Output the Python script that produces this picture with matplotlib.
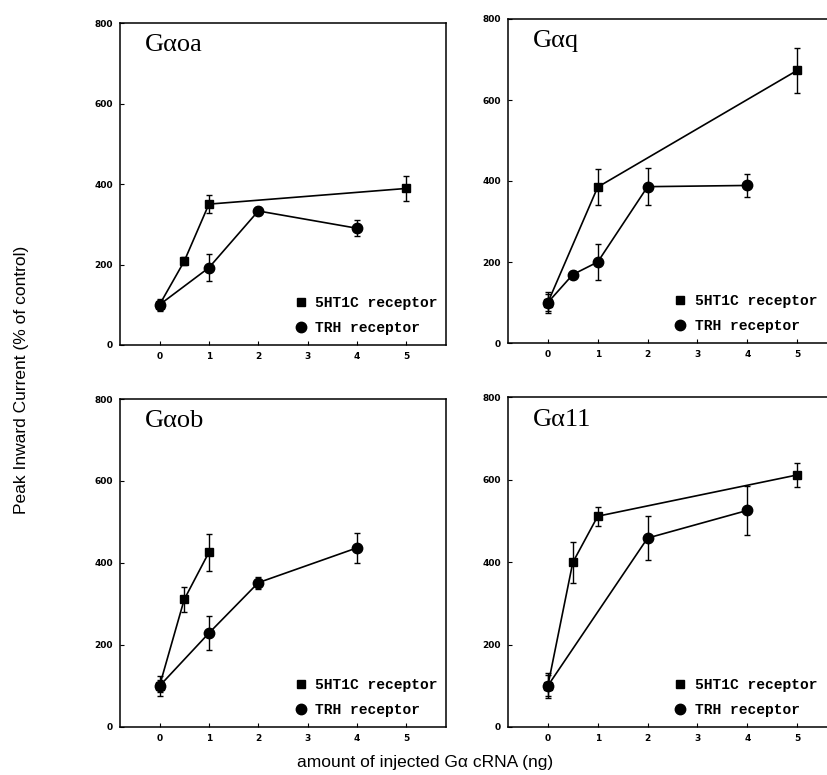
import matplotlib.pyplot as plt
from matplotlib.lines import Line2D

# panel names
panels = ['G\u03b1oa', 'G\u03b1q', 'G\u03b1ob', 'G\u03b111']

# 5HT1C receptor series (x, y, err) per panel
ht_x = [[0, 0.5, 1, 5], [0, 1, 5], [0, 0.5, 1], [0, 0.5, 1, 5]]
ht_y = [[100, 208, 350, 389], [100, 385, 673], [100, 311, 426], [100, 399, 511, 611]]
ht_err = [[15, 10, 22, 31], [20, 45, 55], [15, 30, 45], [30, 50, 23, 29]]

# TRH receptor series
trh_x = [[0, 1, 2, 4], [0, 0.5, 1, 2, 4], [0, 1, 2, 4], [0, 2, 4]]
trh_y = [[100, 192, 333, 290], [100, 169, 200, 386, 389], [100, 229, 352, 437], [100, 458, 525]]
trh_err = [[12, 33, 10, 20], [25, 8, 45, 45, 29], [25, 41, 15, 37], [25, 54, 59]]

yticks = [0, 200, 400, 600, 800]
xticks = [0, 1, 2, 3, 4, 5]

W, H = 828, 775
fig = plt.figure(figsize=(W / 100, H / 100), dpi=100)

# axes boxes in pixels: left, right, top, bottom
boxes = [(120, 446, 23, 345), (508, 837, 19, 343), (120, 446, 399, 727), (508, 837, 397, 727)]

legend_font = {'family': 'Liberation Mono', 'weight': 'bold', 'size': 10.5}

for i in range(4):
    l, r, t, b = boxes[i]
    ax = fig.add_axes([l / W, 1 - b / H, (r - l) / W, (b - t) / H])
    ax.errorbar(ht_x[i], ht_y[i], yerr=ht_err[i], color='black', marker='s', markersize=6,
                linewidth=1.2, elinewidth=1.0, capsize=2.5, capthick=1.0)
    ax.errorbar(trh_x[i], trh_y[i], yerr=trh_err[i], color='black', marker='o', markersize=7.5,
                linewidth=1.2, elinewidth=1.0, capsize=2.5, capthick=1.0)
    ax.set_xlim(-0.8, 5.8)
    ax.set_ylim(0, 800)
    ax.set_xticks(xticks)
    ax.set_yticks(yticks)
    ax.tick_params(direction='in', length=3, width=0.8, labelsize=6.5, pad=5)
    for lab in ax.get_xticklabels() + ax.get_yticklabels():
        lab.set_fontweight('bold')
    for s in ax.spines.values():
        s.set_linewidth(1.1)
    ax.text(0.075, 0.965, panels[i], transform=ax.transAxes, ha='left', va='top',
            fontsize=19, family='Liberation Serif')
    handles = [Line2D([], [], color='black', marker='s', linestyle='none', markersize=5.5),
               Line2D([], [], color='black', marker='o', linestyle='none', markersize=7.5)]
    lx = 0.50 if i % 2 == 0 else 0.47
    ax.legend(handles, ['5HT1C receptor', 'TRH receptor'], loc='lower left',
              bbox_to_anchor=(lx, 0.0), frameon=False, prop=legend_font,
              handlelength=1.0, handletextpad=0.5, labelspacing=0.75, borderpad=0.2)

fig.text(22 / W, 1 - 380 / H, 'Peak Inward Current (% of control)', rotation=90,
         ha='center', va='center', fontsize=12.5, family='Liberation Sans')
fig.text(425 / W, 1 - 762 / H, 'amount of injected G\u03b1 cRNA (ng)',
         ha='center', va='center', fontsize=12.5, family='Liberation Sans')

fig.savefig('out.png', dpi=100)
